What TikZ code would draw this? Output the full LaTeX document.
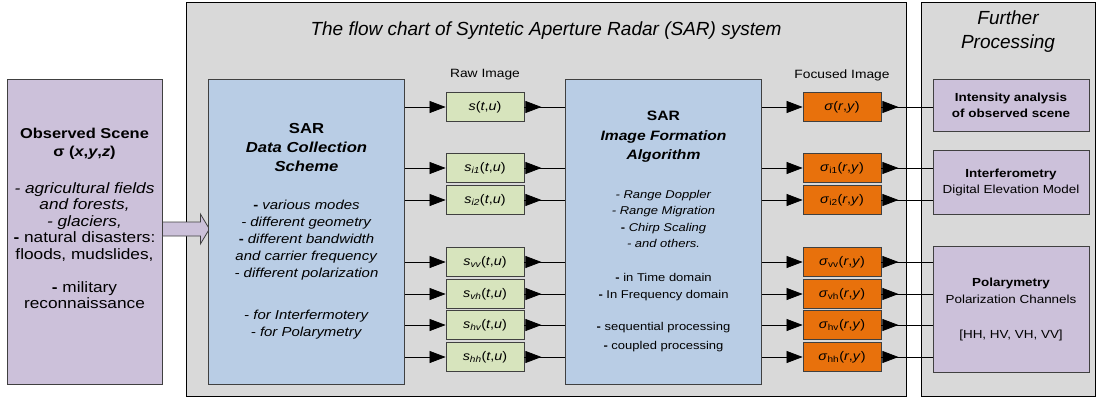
\documentclass[tikz,border=0pt]{standalone}
\usepackage{fontspec}
\setmainfont{Liberation Sans}[FakeStretch=1.15]
\newfontfamily\headfont{Liberation Sans}
\usetikzlibrary{arrows.meta,decorations.markings}

\definecolor{panelgray}{RGB}{217,217,217}
\definecolor{scenepurple}{RGB}{204,193,218}
\definecolor{stageblue}{RGB}{185,205,229}
\definecolor{rawgreen}{RGB}{215,228,189}
\definecolor{focorange}{RGB}{232,113,12}

\newcommand\headline[2]{{\fontsize{#1}{17}\selectfont\bfseries #2}}

\tikzset{
  panel/.style={draw=black, fill=panelgray, line width=0.8pt},
  box/.style={draw=black!75, line width=0.8pt, align=center, inner sep=0pt},
  scenebox/.style={box, fill=scenepurple, minimum width=155pt, minimum height=305pt},
  stagebox/.style={box, fill=stageblue, minimum width=196pt, minimum height=305pt},
  imgbox/.style={box, minimum width=78pt, minimum height=29pt, font=\fontsize{12.5}{14}\selectfont},
  rawimg/.style={imgbox, fill=rawgreen},
  focimg/.style={imgbox, fill=focorange},
  usebox/.style={box, fill=scenepurple, minimum width=156pt},
  colhead/.style={font=\fontsize{12}{14}\selectfont},
  wire/.style={draw=black, line width=0.7pt},
  tip/.style={-{Triangle[length=16pt,width=12pt]}},
  leadtip/.style={postaction={decorate}, decoration={markings,
      mark=at position 17pt with {\arrow{Triangle[length=16pt,width=12pt]}}}},
}

\begin{document}
\begin{tikzpicture}[x=1pt,y=-1pt]
  % page frame
  \useasboundingbox (0,0) rectangle (1097,399);

  % panels
  \draw[panel] (186,2) rectangle (906,396);
  \draw[panel] (921,2) rectangle (1095,396);
  \node[font=\headfont\itshape\fontsize{19}{24}\selectfont] (title) at (546,31)
    {The flow chart of Syntetic Aperture Radar (SAR) system};
  \node[font=\headfont\itshape\fontsize{19}{24}\selectfont, align=center] (further) at (1008,31.5)
    {Further\\Processing};

  % observed scene
  \node[scenebox, font=\fontsize{15}{16.5}\selectfont] (scene) at (84.5,231.5)
    {\headline{14.3}{Observed Scene}\\[1.5pt]
     \headline{14.3}{σ (\textit{x},\textit{y},\textit{z})}\\[20.5pt]
     \textit{- agricultural fields}\\
     \textit{and forests,}\\
     \textit{- glaciers,}\\
     \textbf{-} natural disasters:\\
     floods, mudslides,\\[16.5pt]
     \textbf{-} military\\
     reconnaissance\\[10pt]\mbox{}};
  \draw[fill=scenepurple, draw=black!75, line width=0.8pt]
    (scene.east) ++(0,-9.5) -- ++(38,0) -- ++(0,-8) -- ++(9,15) -- ++(-9,15) -- ++(0,-8) -- ++(-38,0) -- cycle;

  % SAR stages
  \node[stagebox, font=\fontsize{13}{17}\selectfont] (collect) at (306.5,231.5)
    {\headline{14.5}{SAR}\\[2pt]
     \headline{14.5}{\itshape Data Collection}\\[2pt]
     \headline{14.5}{\itshape Scheme}\\[21pt]
     \textbf{-} \textit{various modes}\\
     \textit{- different geometry}\\
     \textbf{-} \textit{different bandwidth}\\
     \textit{and carrier frequency}\\
     \textit{- different polarization}\\[25pt]
     \textit{- for Interfermotery}\\
     \textit{- for Polarymetry}};
  \node[stagebox, font=\fontsize{11.3}{16.5}\selectfont] (form) at (663.5,231.5)
    {\headline{13.6}{SAR}\\[3pt]
     \headline{13.6}{\itshape Image Formation}\\[3pt]
     \headline{13.6}{\itshape Algorithm}\\[22pt]
     \textit{- Range Doppler}\\
     \textit{- Range Migration}\\
     \textbf{-} \textit{Chirp Scaling}\\
     \textit{- and others.}\\[17.5pt]
     \textbf{-} in Time domain\\
     \textbf{-} In Frequency domain\\[15.5pt]
     \textbf{-} sequential processing\\[2.5pt]
     \textbf{-} coupled processing};

  % raw and focused images
  \node[colhead] (rawhead) at (485,75) {Raw Image};
  \node[colhead] (fochead) at (842,75) {Focused Image};
  \node[rawimg] (raw1) at (485,107) {\textit{s}(\textit{t},\textit{u})};
  \node[focimg] (foc1) at (842,107) {\textit{σ}(\textit{r},\textit{y})};
  \foreach \i/\y/\chan in {2/168/i1, 3/200/i2, 4/262/vv, 5/294/vh, 6/325/hv, 7/357/hh} {
    \node[rawimg] (raw\i) at (485,\y) {\textit{s\textsubscript{\chan}}(\textit{t},\textit{u})};
    \node[focimg] (foc\i) at (842,\y) {\textit{σ}\textsubscript{\chan}(\textit{r},\textit{y})};
  }

  % further processing
  \node[usebox, minimum height=52pt, font=\fontsize{11.7}{16}\selectfont] (intens) at (1011,105)
    {\textbf{Intensity analysis}\\\textbf{of observed scene}};
  \node[usebox, minimum height=64pt, font=\fontsize{11.7}{16}\selectfont] (interf) at (1011,182)
    {\textbf{Interferometry}\\Digital Elevation Model};
  \node[usebox, minimum height=126pt, font=\fontsize{11.7}{17}\selectfont] (polar) at (1011,309)
    {\textbf{Polarymetry}\\Polarization Channels\\[18pt][HH, HV, VH, VV]};

  % connectors
  \foreach \i/\tgt in {1/intens, 2/interf, 3/interf, 4/polar, 5/polar, 6/polar, 7/polar} {
    \draw[wire, tip] (collect.east |- raw\i.west) -- (raw\i.west);
    \draw[wire, leadtip] (raw\i.east) -- (form.west |- raw\i.east);
    \draw[wire, tip] (form.east |- foc\i.west) -- (foc\i.west);
    \draw[wire, leadtip] (foc\i.east) -- (\tgt.west |- foc\i.east);
  }
\end{tikzpicture}
\end{document}
